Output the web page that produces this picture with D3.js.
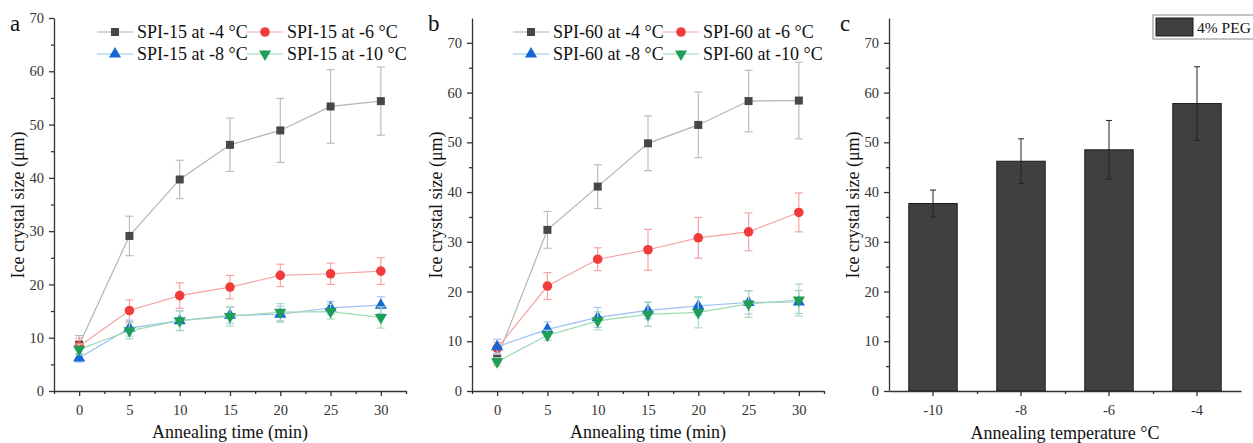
<!DOCTYPE html>
<html>
<head>
<meta charset="utf-8">
<script src="https://cdn.jsdelivr.net/npm/d3@7"></script>
<style>
  body { margin: 0; background: #fff; }
  svg { display: block; font-family: "Liberation Serif", "Times New Roman", serif; }
  .axis path, .axis line { stroke: #333; stroke-width: 1.3px; }
  .axis text { font-family: "Liberation Serif", serif; font-size: 14.5px; fill: #333; }
</style>
</head>
<body>
<svg id="chart" width="1253" height="443"></svg>
<script>
// ---- data ----
const times = [0, 5, 10, 15, 20, 25, 30];

// panel a : SPI-15
const spi15_m4  = [8.7, 29.1, 39.7, 46.2, 48.9, 53.4, 54.4];
const spi15_m4e = [1.7, 3.7, 3.6, 5.0, 6.0, 6.9, 6.4];
const spi15_m6  = [8.4, 15.1, 17.9, 19.5, 21.7, 22.0, 22.5];
const spi15_m6e = [1.5, 2.0, 2.4, 2.2, 2.1, 2.0, 2.5];
const spi15_m8  = [6.2, 11.8, 13.2, 14.2, 14.4, 15.6, 16.1];
const spi15_m8e = [0.8, 1.5, 1.9, 1.5, 1.5, 1.2, 1.6];
const spi15_m10  = [7.8, 11.3, 13.2, 14.0, 14.8, 14.9, 13.8];
const spi15_m10e = [1.0, 1.5, 1.8, 1.8, 1.6, 1.4, 2.0];

// panel b : SPI-60
const spi60_m4  = [6.6, 32.4, 41.1, 49.8, 53.5, 58.3, 58.4];
const spi60_m4e = [1.0, 3.7, 4.4, 5.5, 6.6, 6.2, 7.7];
const spi60_m6  = [8.6, 21.1, 26.5, 28.4, 30.8, 32.0, 35.9];
const spi60_m6e = [1.2, 2.7, 2.3, 4.1, 4.1, 3.8, 3.9];
const spi60_m8  = [8.9, 12.4, 14.8, 16.2, 17.1, 17.8, 17.9];
const spi60_m8e = [1.5, 1.5, 2.0, 1.7, 1.8, 2.3, 2.3];
const spi60_m10  = [5.9, 11.2, 14.1, 15.4, 15.8, 17.5, 18.3];
const spi60_m10e = [0.8, 1.0, 1.8, 2.4, 3.1, 2.7, 3.2];

// panel c : 4% PEG
const pegTemps = ["-10", "-8", "-6", "-4"];
const pegSize  = [37.7, 46.2, 48.5, 57.8];
const pegErr   = [2.7, 4.5, 5.9, 7.4];

const yTicks = [0, 10, 20, 30, 40, 50, 60, 70];
const xTicks = [0, 5, 10, 15, 20, 25, 30];

// series styles
const styles = [
  {sym: d3.symbolSquare,   fill: "#474747", line: "#b4b4b4", err: "#bdbdbd", size: 64},
  {sym: d3.symbolCircle,   fill: "#f23c3c", line: "#f6a3a3", err: "#f6a3a3", size: 72},
  {sym: d3.symbolTriangle, fill: "#1666d6", line: "#9dc1f2", err: "#a8c8f2", size: 64},
  {sym: d3.symbolTriangle, fill: "#1f9e57", line: "#9fdab3", err: "#a8dcb8", size: 64, rot: 180}
];

const svg = d3.select("#chart");

function linePanel(o) {
  const x = d3.scaleLinear().domain([-2.5, 32.5]).range([o.left, o.right]);
  const y = d3.scaleLinear().domain(o.ydom).range([391, 18]);
  const g = svg.append("g");

  // axes
  g.append("g").attr("class", "axis")
    .attr("transform", "translate(0,391)")
    .call(d3.axisBottom(x).tickValues(xTicks).tickSize(5).tickSizeOuter(0).tickPadding(6))
    .call(a => a.selectAll("text").attr("dy", "0.9em"));
  g.append("g").attr("class", "axis")
    .attr("transform", "translate(0,391)")
    .call(d3.axisBottom(x).tickValues(d3.range(-2.5, 33, 5)).tickSize(3).tickFormat("").tickSizeOuter(0))
    .call(a => a.select("path").remove());
  g.append("g").attr("class", "axis")
    .attr("transform", "translate(" + o.left + ",0)")
    .call(d3.axisLeft(y).tickValues(yTicks).tickSize(5).tickSizeOuter(0).tickPadding(5));
  g.append("g").attr("class", "axis")
    .attr("transform", "translate(" + o.left + ",0)")
    .call(d3.axisLeft(y).tickValues(d3.range(5, o.ydom[1], 10)).tickSize(3).tickFormat(""))
    .call(a => a.select("path").remove());

  // series
  o.series.forEach(function(s, i) {
    const st = styles[i];
    const pts = times.map((t, k) => ({t: t, v: s.v[k], e: s.e[k]}));
    const line = d3.line().x(d => x(d.t)).y(d => y(d.v));
    g.append("path").datum(pts).attr("d", line)
      .attr("fill", "none").attr("stroke", st.line).attr("stroke-width", 1.2);
    const eb = g.append("g").attr("stroke", st.err).attr("stroke-width", 1.2);
    pts.forEach(function(d) {
      eb.append("line").attr("x1", x(d.t)).attr("x2", x(d.t)).attr("y1", y(d.v - d.e)).attr("y2", y(d.v + d.e));
      eb.append("line").attr("x1", x(d.t) - 4).attr("x2", x(d.t) + 4).attr("y1", y(d.v - d.e)).attr("y2", y(d.v - d.e));
      eb.append("line").attr("x1", x(d.t) - 4).attr("x2", x(d.t) + 4).attr("y1", y(d.v + d.e)).attr("y2", y(d.v + d.e));
    });
    g.selectAll(null).data(pts).enter().append("path")
      .attr("d", d3.symbol().type(st.sym).size(st.size))
      .attr("transform", d => "translate(" + x(d.t) + "," + y(d.v) + ")" + (st.rot ? " rotate(180)" : ""))
      .attr("fill", st.fill);
  });

  // legend
  const lg = g.append("g");
  o.series.forEach(function(s, i) {
    const st = styles[i];
    const lx = o.legX[i % 2], ly = i < 2 ? 32 : 54;
    lg.append("line").attr("x1", lx).attr("x2", lx + 36).attr("y1", ly).attr("y2", ly)
      .attr("stroke", st.line).attr("stroke-width", 1.2);
    lg.append("path").attr("d", d3.symbol().type(st.sym).size(st.size))
      .attr("transform", "translate(" + (lx + 18) + "," + ly + ")" + (st.rot ? " rotate(180)" : ""))
      .attr("fill", st.fill);
    lg.append("text").attr("x", lx + 40).attr("y", ly + 6)
      .attr("font-size", "18px").attr("fill", "#111").text(s.name);
  });

  // titles
  g.append("text").attr("x", (o.left + o.right) / 2).attr("y", 438)
    .attr("text-anchor", "middle").attr("font-size", "18px").attr("fill", "#111")
    .text("Annealing time (min)");
  g.append("text").attr("transform", "translate(" + o.ytx + ",205) rotate(-90)")
    .attr("text-anchor", "middle").attr("font-size", "18px").attr("fill", "#111")
    .text("Ice crystal size (μm)");
  g.append("text").attr("x", o.labX).attr("y", 31).attr("font-size", "23px").attr("fill", "#111").text(o.label);
}

linePanel({
  left: 54, right: 406, ydom: [0, 70], label: "a", labX: 10, ytx: 24,
  legX: [97, 247],
  series: [
    {name: "SPI-15 at -4 °C", v: spi15_m4, e: spi15_m4e},
    {name: "SPI-15 at -6 °C", v: spi15_m6, e: spi15_m6e},
    {name: "SPI-15 at -8 °C", v: spi15_m8, e: spi15_m8e},
    {name: "SPI-15 at -10 °C", v: spi15_m10, e: spi15_m10e}
  ]
});

linePanel({
  left: 472, right: 824, ydom: [0, 75], label: "b", labX: 428, ytx: 442,
  legX: [513, 663],
  series: [
    {name: "SPI-60 at -4 °C", v: spi60_m4, e: spi60_m4e},
    {name: "SPI-60 at -6 °C", v: spi60_m6, e: spi60_m6e},
    {name: "SPI-60 at -8 °C", v: spi60_m8, e: spi60_m8e},
    {name: "SPI-60 at -10 °C", v: spi60_m10, e: spi60_m10e}
  ]
});

// ---- panel c : bars ----
(function() {
  const left = 889, right = 1241;
  const x = d3.scaleBand().domain(pegTemps).range([left, right]).paddingInner(0).paddingOuter(0);
  const y = d3.scaleLinear().domain([0, 75]).range([391, 18]);
  const g = svg.append("g");
  const bw = x.bandwidth() * 0.55;

  g.selectAll("rect.bar").data(pegTemps).enter().append("rect")
    .attr("class", "bar")
    .attr("x", d => x(d) + (x.bandwidth() - bw) / 2)
    .attr("y", (d, i) => y(pegSize[i]))
    .attr("width", bw)
    .attr("height", (d, i) => 391 - y(pegSize[i]))
    .attr("fill", "#404040").attr("stroke", "#1a1a1a").attr("stroke-width", 1);

  const eb = g.append("g").attr("stroke", "#222").attr("stroke-width", 1);
  pegTemps.forEach(function(d, i) {
    const cx = x(d) + x.bandwidth() / 2;
    eb.append("line").attr("x1", cx).attr("x2", cx).attr("y1", y(pegSize[i] - pegErr[i])).attr("y2", y(pegSize[i] + pegErr[i]));
    eb.append("line").attr("x1", cx - 3).attr("x2", cx + 3).attr("y1", y(pegSize[i] - pegErr[i])).attr("y2", y(pegSize[i] - pegErr[i]));
    eb.append("line").attr("x1", cx - 3).attr("x2", cx + 3).attr("y1", y(pegSize[i] + pegErr[i])).attr("y2", y(pegSize[i] + pegErr[i]));
  });

  g.append("g").attr("class", "axis")
    .attr("transform", "translate(0,391)")
    .call(d3.axisBottom(x).tickSize(5).tickSizeOuter(0).tickPadding(6))
    .call(a => a.selectAll("text").attr("dy", "0.9em"));
  // boundary ticks between categories
  const bx = d3.scaleLinear().domain([0, 4]).range([left, right]);
  g.append("g").attr("class", "axis")
    .attr("transform", "translate(0,391)")
    .call(d3.axisBottom(bx).tickValues([1, 2, 3]).tickSize(3).tickFormat(""))
    .call(a => a.select("path").remove());
  g.append("g").attr("class", "axis")
    .attr("transform", "translate(" + left + ",0)")
    .call(d3.axisLeft(y).tickValues(yTicks).tickSize(5).tickSizeOuter(0).tickPadding(5));
  g.append("g").attr("class", "axis")
    .attr("transform", "translate(" + left + ",0)")
    .call(d3.axisLeft(y).tickValues(d3.range(5, 75, 10)).tickSize(3).tickFormat(""))
    .call(a => a.select("path").remove());

  // legend
  g.append("rect").attr("x", 1153).attr("y", 15).attr("width", 110).attr("height", 24)
    .attr("fill", "#fff").attr("stroke", "#888").attr("stroke-width", 1);
  g.append("rect").attr("x", 1156).attr("y", 18).attr("width", 37).attr("height", 18)
    .attr("fill", "#404040").attr("stroke", "#1a1a1a");
  g.append("text").attr("x", 1197).attr("y", 33).attr("font-size", "15.5px").attr("fill", "#111").text("4% PEG");

  g.append("text").attr("x", (left + right) / 2).attr("y", 439)
    .attr("text-anchor", "middle").attr("font-size", "18px").attr("fill", "#111")
    .text("Annealing temperature °C");
  g.append("text").attr("transform", "translate(859,205) rotate(-90)")
    .attr("text-anchor", "middle").attr("font-size", "18px").attr("fill", "#111")
    .text("Ice crystal size (μm)");
  g.append("text").attr("x", 840).attr("y", 31).attr("font-size", "23px").attr("fill", "#111").text("c");
})();
</script>
</body>
</html>
